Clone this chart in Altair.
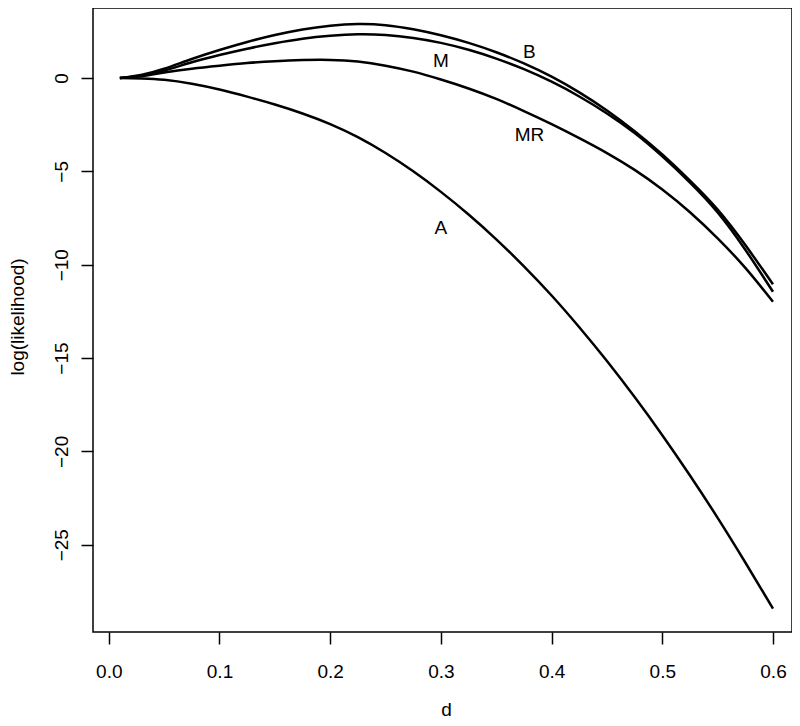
import altair as alt
import pandas as pd

# d grid (x values)
d_vals = [0.01, 0.03, 0.05, 0.075, 0.1, 0.125, 0.15, 0.175, 0.2, 0.225, 0.25, 0.275,
          0.3, 0.325, 0.35, 0.375, 0.4, 0.425, 0.45, 0.475, 0.5, 0.525, 0.55, 0.575, 0.6]

# log-likelihood curves
B_vals = [0, 0.18, 0.5, 1.02, 1.5, 1.93, 2.3, 2.6, 2.8, 2.89, 2.83, 2.61,
          2.29, 1.88, 1.38, 0.78, 0.07, -0.77, -1.74, -2.85, -4.1, -5.5, -7.05, -8.95, -11.05]
M_vals = [0, 0.14, 0.4, 0.84, 1.23, 1.57, 1.86, 2.1, 2.26, 2.34, 2.3, 2.14,
          1.88, 1.51, 1.04, 0.47, -0.2, -0.99, -1.9, -2.95, -4.2, -5.6, -7.2, -9.2, -11.45]
MR_vals = [0, 0.1, 0.29, 0.5, 0.66, 0.8, 0.9, 0.96, 0.97, 0.88, 0.66, 0.34,
           -0.08, -0.56, -1.12, -1.77, -2.47, -3.22, -4.02, -4.92, -5.97, -7.19, -8.59, -10.17, -11.98]
A_vals = [0, -0.03, -0.1, -0.31, -0.62, -1.0, -1.42, -1.9, -2.47, -3.17, -4.02, -5.0,
          -6.1, -7.31, -8.64, -10.09, -11.65, -13.35, -15.16, -17.09, -19.13, -21.29, -23.56, -25.95, -28.42]

series_names = ["B", "M", "MR", "A"]

# curve labels
label_text = ["B", "M", "MR", "A"]
label_x = [0.38, 0.30, 0.38, 0.30]
label_y = [1.4, 0.9, -3.05, -8.05]

x_ticks = [0.0, 0.1, 0.2, 0.3, 0.4, 0.5, 0.6]
y_ticks = [-25, -20, -15, -10, -5, 0]

rows = []
for name, vals in zip(series_names, [B_vals, M_vals, MR_vals, A_vals]):
    for d, v in zip(d_vals, vals):
        rows.append({"d": d, "ll": v, "series": name})
df = pd.DataFrame(rows)
lab = pd.DataFrame({"d": label_x, "ll": label_y, "t": label_text})

FONT = "Liberation Sans"
FS = 19

x_scale = alt.Scale(domain=[-0.01427, 0.61716], nice=False, zero=False)
y_scale = alt.Scale(domain=[-29.673, 3.749], nice=False, zero=False)

x_axis = alt.Axis(values=x_ticks, format=".1f", domain=False, grid=False,
                  tickSize=12, tickWidth=1.5, tickColor="black",
                  labelFont=FONT, labelFontSize=FS, labelColor="black",
                  labelBaseline="alphabetic", labelPadding=33,
                  title="d", titleFont=FONT, titleFontSize=FS, titleFontWeight="normal",
                  titleColor="black", titleBaseline="alphabetic", titleAlign="center",
                  titleX=353, titleY=83)
y_axis = alt.Axis(values=y_ticks, format="d", domain=False, grid=False,
                  tickSize=12, tickWidth=1.5, tickColor="black",
                  labelFont=FONT, labelFontSize=FS, labelColor="black",
                  labelAngle=270, labelAlign="center", labelBaseline="alphabetic",
                  labelPadding=14,
                  title="log(likelihood)", titleFont=FONT, titleFontSize=FS,
                  titleFontWeight="normal", titleColor="black", titleAngle=270,
                  titleBaseline="alphabetic", titleAlign="center",
                  titleX=-70, titleY=308.5)

lines = alt.Chart(df).mark_line(color="black", strokeWidth=2.5, interpolate="natural").encode(
    x=alt.X("d:Q", scale=x_scale, axis=x_axis),
    y=alt.Y("ll:Q", scale=y_scale, axis=y_axis),
    detail="series:N",
)

texts = alt.Chart(lab).mark_text(font=FONT, fontSize=FS, color="black",
                                 align="center", baseline="middle").encode(
    x=alt.X("d:Q", scale=x_scale),
    y=alt.Y("ll:Q", scale=y_scale),
    text="t:N",
)

chart = alt.layer(lines, texts).properties(
    width=699, height=624,
    autosize=alt.AutoSizeParams(type="none"),
    padding={"left": 85, "top": 0, "right": 0, "bottom": 86},
    background="white",
).configure_view(stroke="black", strokeWidth=1.5)

chart.save("out.html", embed_options={"renderer": "svg", "actions": False})
